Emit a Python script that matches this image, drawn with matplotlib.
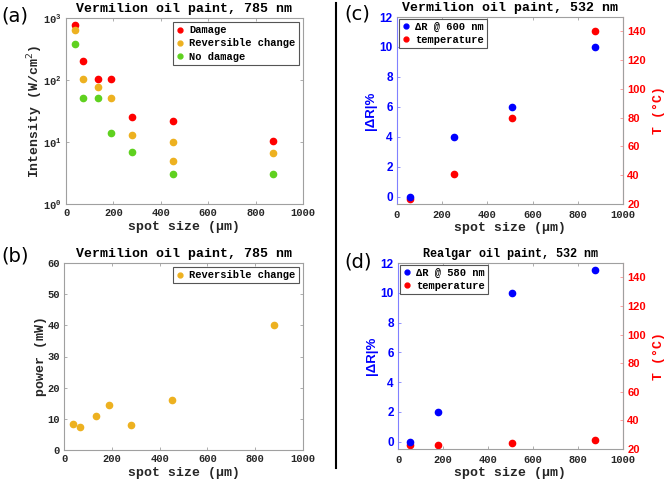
import numpy as np
import matplotlib
matplotlib.use('Agg')
import matplotlib.pyplot as plt
from matplotlib.lines import Line2D

MONO = 'Liberation Mono'
SANS = 'Liberation Sans'
RED = '#ff0000'
ORANGE = '#edb120'
GREEN = '#5fd11f'
BLUE = '#0000ff'
GRAY = '#262626'

# (a) intensity vs spot size
dmg_x = [40, 70, 135, 190, 280, 450, 875]
dmg_y = [780, 199, 105, 105, 25, 22, 10.2]
rev_x = [40, 70, 135, 190, 280, 450, 450, 875]
rev_y = [640, 105, 77, 51, 13, 10, 5, 6.6]
nod_x = [40, 70, 135, 190, 280, 450, 875]
nod_y = [385, 52, 51, 14, 6.8, 3.0, 3.0]

# (b) power vs spot size
pow_x = [36, 68, 134, 188, 280, 450, 877]
pow_y = [8.2, 7.5, 11.0, 14.4, 8.0, 16.0, 40.0]

# (c) vermilion 532 nm
c_x = [57, 253, 510, 877]
c_dr = [0, 4, 6, 10]
c_t = [23.7, 40.9, 79.9, 140]

# (d) realgar 532 nm
d_x = [55, 176, 507, 877]
d_dr = [0, 2, 10, 11.5]
d_t = [22.8, 23, 24.2, 26.2]

W, H = 665, 483
fig = plt.figure(figsize=(W / 100, H / 100), dpi=100)


def add_ax(l, t, r, b):
    return fig.add_axes([l / W, 1 - b / H, (r - l) / W, (b - t) / H])


def style(ax, title, tsize=9.5):
    for s in ax.spines.values():
        s.set_color('#a0a0a0')
        s.set_linewidth(0.8)
    ax.tick_params(direction='in', top=True, right=True, length=2.5,
                   width=0.6, colors='#a0a0a0', labelcolor=GRAY, pad=3)
    for lab in ax.get_xticklabels() + ax.get_yticklabels():
        lab.set_fontfamily(MONO)
        lab.set_fontweight('bold')
        lab.set_fontsize(7.5)
    ax.set_title(title, fontfamily=MONO, fontweight='bold', fontsize=tsize,
                 color='black', pad=4)
    ax.set_xlabel('spot size (\u03bcm)', fontfamily=MONO, fontweight='bold',
                  fontsize=9.5, color=GRAY, labelpad=2)


def legend(ax, handles, loc, pad=0.4):
    leg = ax.legend(handles=handles, loc=loc, fancybox=False, framealpha=1,
                    edgecolor='#555555', borderpad=0.3, labelspacing=0.3,
                    handlelength=0.8, handletextpad=0.5, borderaxespad=pad,
                    prop={'family': MONO, 'weight': 'bold', 'size': 7.5})
    leg.get_frame().set_linewidth(0.8)


def dot(color, label):
    return Line2D([], [], ls='none', marker='o', ms=3.5, color=color, label=label)


ms = 4.5

# panel (a)
ax = add_ax(66, 18, 303, 204)
ax.set_yscale('log')
ax.plot(dmg_x, dmg_y, 'o', color=RED, ms=ms)
ax.plot(rev_x, rev_y, 'o', color=ORANGE, ms=ms)
ax.plot(nod_x, nod_y, 'o', color=GREEN, ms=ms)
ax.set_xlim(0, 1000)
ax.set_ylim(1, 1000)
ax.set_xticks([0, 200, 400, 600, 800, 1000])
ax.minorticks_off()
style(ax, 'Vermilion oil paint, 785 nm')
ax.set_ylabel('Intensity (W/cm$^2$)', fontfamily=MONO, fontweight='bold',
              fontsize=9.5, color=GRAY, labelpad=-1)
legend(ax, [dot(RED, 'Damage'), dot(ORANGE, 'Reversible change'),
            dot(GREEN, 'No damage')], 'upper right')

# panel (b)
ax = add_ax(64, 263, 303, 450)
ax.plot(pow_x, pow_y, 'o', color=ORANGE, ms=ms)
ax.set_xlim(0, 1000)
ax.set_ylim(0, 60)
ax.set_xticks([0, 200, 400, 600, 800, 1000])
ax.set_yticks(np.arange(0, 61, 10))
style(ax, 'Vermilion oil paint, 785 nm')
ax.set_ylabel('power (mW)', fontfamily=MONO, fontweight='bold',
              fontsize=9.5, color=GRAY, labelpad=0)
legend(ax, [dot(ORANGE, 'Reversible change')], 'upper right')


def twin_panel(box, xs, dr, ts, title, dr_label, tsize):
    ax = add_ax(*box)
    ax2 = ax.twinx()
    ax.plot(xs, dr, 'o', color=BLUE, ms=ms, zorder=3)
    ax2.plot(xs, ts, 'o', color=RED, ms=ms, zorder=3)
    ax.set_xlim(0, 1000)
    ax.set_ylim(-0.5, 12)
    ax2.set_ylim(20, 150)
    ax.set_xticks([0, 200, 400, 600, 800, 1000])
    ax.set_yticks(np.arange(0, 13, 2))
    ax2.set_yticks(np.arange(20, 141, 20))
    style(ax, title, tsize)
    ax.tick_params(right=False)
    ax.tick_params(axis='x', pad=4)
    ax.spines['left'].set_color('#8080ff')
    ax.tick_params(axis='y', colors='#8080ff', labelcolor=BLUE, pad=3)
    for lab in ax.get_yticklabels():
        lab.set_fontfamily(SANS)
        lab.set_fontsize(8.5)
    for s in ax2.spines.values():
        s.set_visible(False)
    ax2.spines['right'].set_visible(True)
    ax2.spines['right'].set_color('#ff9090')
    ax2.spines['right'].set_linewidth(0.8)
    ax2.tick_params(direction='in', length=2.5, width=0.6, colors='#ff9090',
                    labelcolor=RED, pad=3)
    for lab in ax2.get_yticklabels():
        lab.set_fontfamily(SANS)
        lab.set_fontweight('bold')
        lab.set_fontsize(8)
    ax.set_ylabel('|\u0394R|%', fontfamily=SANS, fontweight='bold',
                  fontsize=9.5, color=BLUE, labelpad=2)
    ax2.set_ylabel('T (\u00b0C)', fontfamily=MONO, fontweight='bold',
                   fontsize=9.5, color=RED, labelpad=5)
    legend(ax, [dot(BLUE, dr_label), dot(RED, 'temperature')], 'upper left',
           pad=0.15)
    ax.set_zorder(ax2.get_zorder() + 1)
    ax.patch.set_visible(False)


twin_panel((397, 17, 623, 204), c_x, c_dr, c_t,
           'Vermilion oil paint, 532 nm', '\u0394R @ 600 nm', 9.5)
twin_panel((398, 263, 623, 449), d_x, d_dr, d_t,
           'Realgar oil paint, 532 nm', '\u0394R @ 580 nm', 8.5)

# separator line and panel letters
fig.add_artist(Line2D([336 / W, 336 / W], [1 - 3 / H, 1 - 468 / H],
                      color='black', lw=1.5))
for lab, x, y in [('(a)', 1, 16), ('(b)', 1, 256), ('(c)', 344, 14),
                  ('(d)', 344, 262)]:
    fig.text(x / W, 1 - y / H, lab, fontsize=14, fontfamily='DejaVu Sans',
             va='center', ha='left')

fig.savefig('out.png', dpi=100)
